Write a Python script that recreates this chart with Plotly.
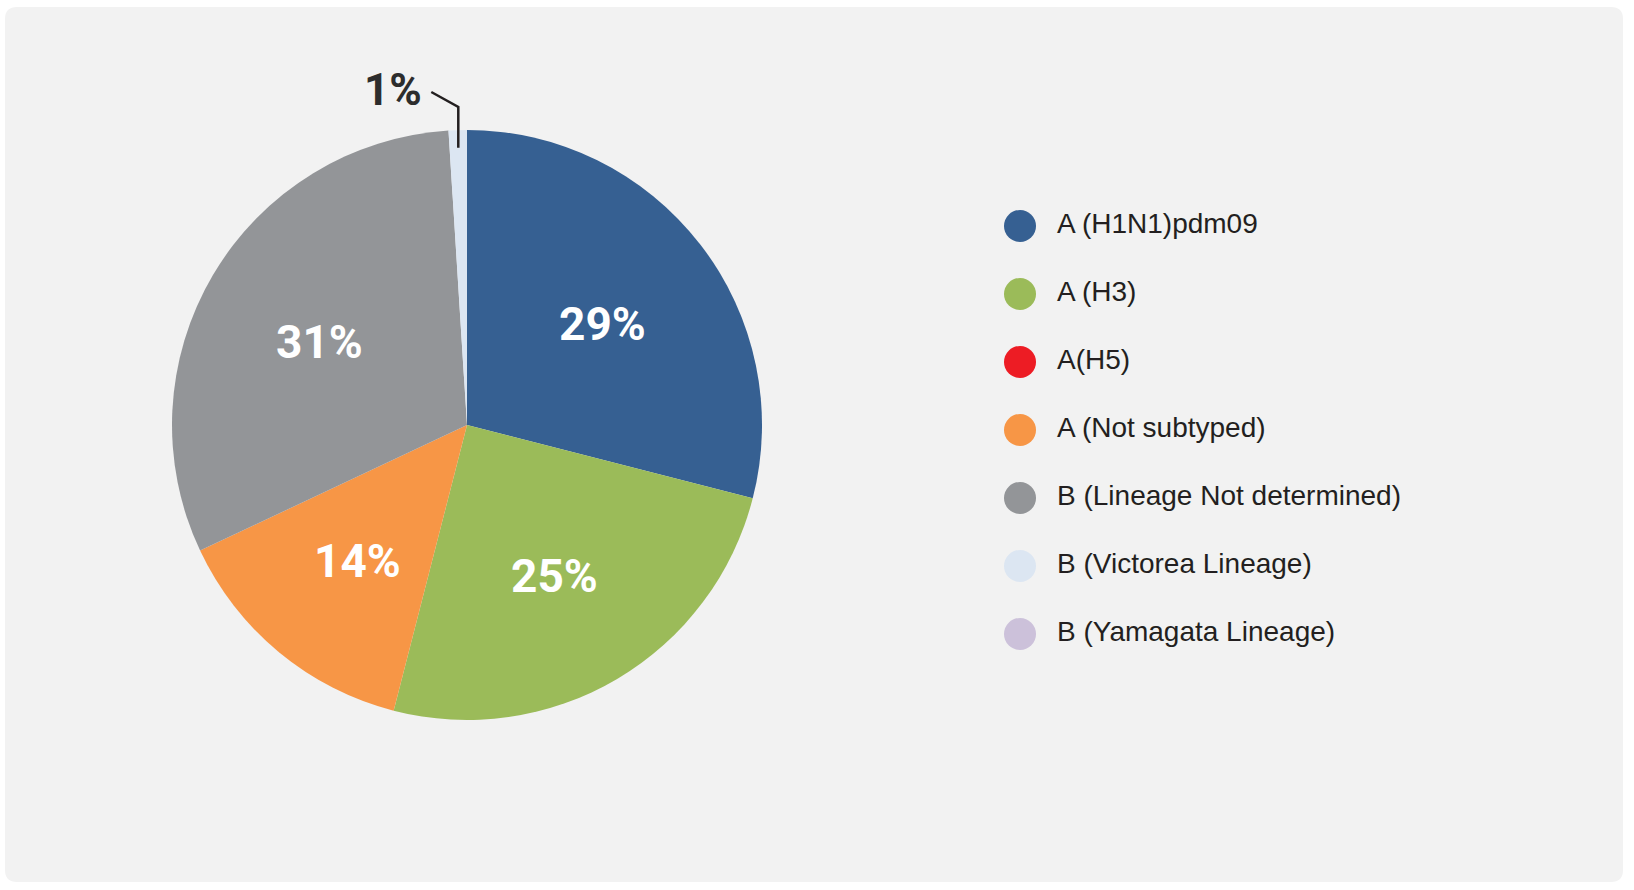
import math
import plotly.graph_objects as go

# ---- data ----
categories = [
    "A (H1N1)pdm09",
    "A (H3)",
    "A(H5)",
    "A (Not subtyped)",
    "B (Lineage Not determined)",
    "B (Victorea Lineage)",
    "B (Yamagata Lineage)",
]
values = [29, 25, 0, 14, 31, 1, 0]
colors = ["#366092", "#9bbb59", "#ed1c24", "#f79646", "#939598", "#dce6f2", "#ccc1da"]

# ---- layout geometry (pixels) ----
W, H = 1634, 890
cx, cy, R = 467, 425, 295
LABEL_FONT = "Roboto, Liberation Sans, Arial"
TEXT_FONT = "Liberation Sans, Arial, Helvetica, sans-serif"
DARK = "#231f20"

fig = go.Figure()

fig.add_trace(go.Pie(
    labels=categories,
    values=values,
    sort=False,
    direction="clockwise",
    rotation=0,
    marker=dict(colors=colors, line=dict(width=0)),
    textinfo="none",
    domain=dict(x=[(cx - R) / W, (cx + R) / W], y=[(H - cy - R) / H, (H - cy + R) / H]),
    showlegend=False,
    hoverinfo="skip",
))

annotations = []
shapes = []

# percentage labels: inside for big slices, outside with leader line for tiny ones
total = sum(values)
cum = 0
for v in values:
    start = cum
    cum += v
    if v <= 0:
        continue
    a = 2 * math.pi * (start + v / 2) / total
    pct = f"{round(100 * v / total)}%"
    if v >= 5:
        rf = 0.58 * R
        annotations.append(dict(
            x=cx + rf * math.sin(a), y=cy - rf * math.cos(a), xref="x", yref="y",
            text=pct, showarrow=False, xanchor="center", yanchor="middle", yshift=-4,
            font=dict(family=LABEL_FONT, size=46, color="white", weight="bold"),
        ))
    else:
        x0 = cx + 0.94 * R * math.sin(a)
        y0 = cy - 0.94 * R * math.cos(a)
        top = cy - R
        shapes.append(dict(
            type="path", xref="x", yref="y", layer="above",
            path=f"M {x0},{y0} L {x0},{top - 23} L {x0 - 27},{top - 38}",
            line=dict(color=DARK, width=2.5), fillcolor="rgba(0,0,0,0)",
        ))
        annotations.append(dict(
            x=x0 - 65, y=top - 40, xref="x", yref="y",
            text=pct, showarrow=False, xanchor="center", yanchor="middle",
            font=dict(family=LABEL_FONT, size=44, color="#2d2d2d", weight="bold"),
        ))

# custom legend (circle markers)
dot_x, txt_x, y0_leg, step = 1020, 1057, 226, 68
leg_y = [y0_leg + step * i for i in range(len(categories))]
fig.add_trace(go.Scatter(
    x=[dot_x] * len(categories), y=leg_y, mode="markers",
    marker=dict(size=32, color=colors, line=dict(width=0)),
    showlegend=False, hoverinfo="skip",
))
fig.add_trace(go.Scatter(
    x=[txt_x] * len(categories), y=leg_y, mode="text",
    text=categories, textposition="middle right",
    textfont=dict(family=TEXT_FONT, size=28, color=DARK),
    showlegend=False, hoverinfo="skip",
))

# background panel with rounded corners
x0p, y0p, x1p, y1p, rr = 5, 7, 1623, 882, 12
panel = (f"M {x0p + rr},{y0p} L {x1p - rr},{y0p} Q {x1p},{y0p} {x1p},{y0p + rr} "
         f"L {x1p},{y1p - rr} Q {x1p},{y1p} {x1p - rr},{y1p} "
         f"L {x0p + rr},{y1p} Q {x0p},{y1p} {x0p},{y1p - rr} "
         f"L {x0p},{y0p + rr} Q {x0p},{y0p} {x0p + rr},{y0p} Z")
shapes.insert(0, dict(type="path", path=panel, xref="x", yref="y",
                      fillcolor="#f2f2f2", line=dict(width=0), layer="below"))

fig.update_layout(
    width=W, height=H,
    margin=dict(l=0, r=0, t=0, b=0),
    paper_bgcolor="white",
    plot_bgcolor="rgba(0,0,0,0)",
    xaxis=dict(range=[0, W], domain=[0, 1], visible=False, fixedrange=True),
    yaxis=dict(range=[H, 0], domain=[0, 1], visible=False, fixedrange=True),
    shapes=shapes,
    annotations=annotations,
    showlegend=False,
)

fig.write_html("out.html")
